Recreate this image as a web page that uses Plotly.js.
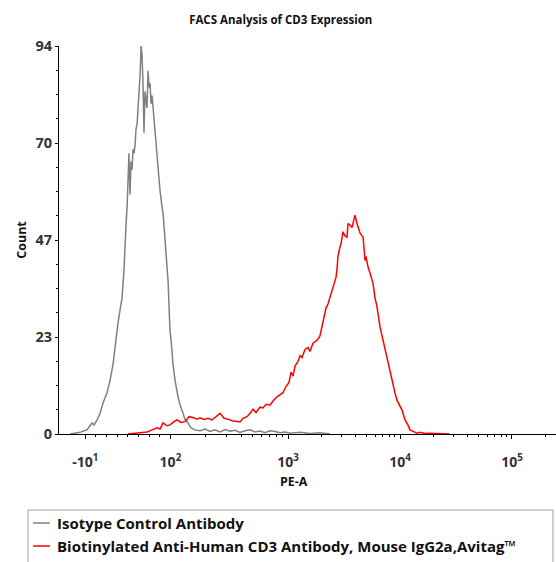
<!DOCTYPE html>
<html>
<head>
<meta charset="utf-8">
<script src="https://cdn.plot.ly/plotly-3.0.1.min.js"></script>
<style>html,body{margin:0;padding:0;background:#fff;}#chart{width:556px;height:562px;}</style>
</head>
<body>
<div id="chart"></div>
<script>
// Display positions on the PE-A axis (logicle-like decade units)
const xTickPos = [1.19, 1.95, 3, 4, 5];
const xTickText = ["-10<sup>1</sup>", "10<sup>2</sup>", "10<sup>3</sup>", "10<sup>4</sup>", "10<sup>5</sup>"];
const yMax = 94;
const yTickText = ["0", "23", "47", "70", "94"];

const isotypeX = [1.054,1.098,1.143,1.179,1.205,1.232,1.250,1.268,1.295,1.321,1.348,1.384,1.411,1.438,1.455,1.482,1.500,1.518,1.536,1.545,1.554,1.563,1.571,1.580,1.589,1.598,1.607,1.616,1.625,1.634,1.643,1.652,1.661,1.670,1.679,1.688,1.696,1.705,1.714,1.723,1.732,1.741,1.750,1.759,1.768,1.777,1.786,1.795,1.804,1.813,1.830,1.839,1.857,1.875,1.884,1.902,1.920,1.929,1.946,1.955,1.973,1.991,2.018,2.036,2.063,2.080,2.107,2.134,2.170,2.214,2.259,2.304,2.348,2.393,2.438,2.482,2.527,2.571,2.616,2.661,2.705,2.750,2.795,2.839,2.884,2.929,2.973,3.018,3.107,3.196,3.286,3.375];
const isotypeY = [0,0.2,0.4,0.8,1.0,2.0,2.7,2.2,3.4,5.0,7.5,10,13,17,21,27,30,33,40,47,51,55,62,68,58,66,64,69,68,70,74,75,79,83,87,94,92,85,73,83,80,79,88,84,85,80,82,79,76,73.6,67,64,59,55,53.5,47,39,37,25,23,17,13,9,7,5,3.5,2.7,1.5,1.0,0.8,1.2,0.6,1.0,0.5,1.1,0.7,0.9,0.4,0.8,1.0,0.5,0.7,0.3,0.8,0.6,0.3,0.5,0.2,0.4,0.1,0.3,0];

const cd3X = [1.571,1.634,1.696,1.741,1.786,1.830,1.857,1.884,1.920,1.946,1.982,2.009,2.045,2.080,2.116,2.152,2.188,2.214,2.250,2.286,2.321,2.357,2.393,2.429,2.464,2.500,2.536,2.571,2.598,2.634,2.661,2.688,2.714,2.750,2.777,2.804,2.839,2.866,2.902,2.929,2.955,2.982,3.009,3.027,3.045,3.063,3.089,3.107,3.125,3.152,3.179,3.196,3.223,3.250,3.268,3.286,3.304,3.321,3.339,3.357,3.375,3.393,3.411,3.429,3.438,3.446,3.464,3.473,3.491,3.509,3.527,3.536,3.554,3.571,3.589,3.598,3.616,3.634,3.643,3.661,3.670,3.679,3.688,3.696,3.714,3.732,3.759,3.777,3.795,3.821,3.848,3.866,3.884,3.911,3.938,3.955,3.973,4.000,4.018,4.045,4.071,4.089,4.116,4.152,4.179,4.223,4.268,4.357,4.446];
const cd3Y = [0,0.2,0.4,0.5,1.0,1.5,1.2,2.7,2.0,2.2,3.0,3.4,2.8,3.0,4.2,4.0,3.6,3.9,3.5,3.8,3.4,4.2,5.0,3.8,3.6,3.2,3.0,2.9,3.8,4.2,5.0,6.0,5.2,6.5,6.3,7.2,7.0,8.0,9.0,9.5,10.0,11.5,12.5,15.0,14.0,16.5,17.5,19,18.5,20.5,21,20,22,22.5,23,23.8,26,28,30.5,31.5,33,34.5,36,38,40,43,45.3,46,49,48,47.7,51,50.6,50,52,53,51,49,48.7,48,47.7,45,42,43,40.5,39,36.5,33,30.8,26,22.8,20.5,18,14.8,11.4,10,8.2,6.8,5.8,3.4,2.2,1.0,0.6,0.2,0.4,0.1,0.2,0.1,0];

const seriesNames = ["Isotype Control Antibody", "Biotinylated Anti-Human CD3 Antibody, Mouse IgG2a,Avitag\u2122"];
const seriesColors = ["#808080", "#ff0000"];

// derived tick arrays
const yTickVals = yTickText.map((t, i) => yMax * i / (yTickText.length - 1));
const yMinor = [];
for (let i = 0; i <= 16; i++) yMinor.push(yMax * i / 16);
const xMinor = [];
for (let v = xTickPos[0]; v < xTickPos[1]; v += (xTickPos[1] - xTickPos[0]) / 8) xMinor.push(v);
for (let i = 1; i < xTickPos.length; i++) {
  const span = (i + 1 < xTickPos.length) ? xTickPos[i + 1] - xTickPos[i] : 1;
  for (let m = 2; m <= 9; m++) xMinor.push(xTickPos[i] + Math.log10(m) * span);
}

const FONT = "'Open Sans', Lato, sans-serif";
const bold = s => "<b>" + s + "</b>";

const traces = [
  {x: isotypeX, y: isotypeY, name: seriesNames[0], type: "scatter", mode: "lines",
   line: {color: seriesColors[0], width: 1.5}, showlegend: false},
  {x: cd3X, y: cd3Y, name: seriesNames[1], type: "scatter", mode: "lines",
   line: {color: seriesColors[1], width: 1.5}, showlegend: false}
];

// legend drawn in paper coordinates (plot area: 497 x 388 px)
const px2x = p => (p - 59) / 497;
const py2y = p => (434 - p) / 388;
const legendRowsY = [523, 546];
const shapes = [
  {type: "rect", xref: "paper", yref: "paper", x0: px2x(28), x1: px2x(553), y0: py2y(510), y1: py2y(566),
   line: {color: "#a0a0a0", width: 1}, fillcolor: "rgba(0,0,0,0)"}
];
const annotations = [
  {text: bold("PE-A"), xref: "paper", yref: "paper", x: px2x(294), y: py2y(481), xanchor: "center", yanchor: "middle",
   showarrow: false, font: {family: FONT, size: 12.5, color: "#111"}}
];
seriesNames.forEach((n, i) => {
  shapes.push({type: "line", xref: "paper", yref: "paper", x0: px2x(33), x1: px2x(50),
               y0: py2y(legendRowsY[i]), y1: py2y(legendRowsY[i]), line: {color: seriesColors[i], width: 1.5}});
  annotations.push({text: bold(n), xref: "paper", yref: "paper", x: px2x(55), y: py2y(legendRowsY[i]),
                    xanchor: "left", yanchor: "middle", showarrow: false,
                    font: {family: FONT, size: 15, color: "#111"}});
});

const layout = {
  width: 556, height: 562,
  margin: {l: 59, r: 0, t: 46, b: 128},
  paper_bgcolor: "#fff", plot_bgcolor: "#fff",
  font: {family: FONT, color: "#222"},
  title: {text: bold("FACS Analysis of CD3 Expression"), x: 0.505, xanchor: "center", y: 0.965, yanchor: "middle",
          font: {family: FONT, size: 11.5, color: "#111"}},
  xaxis: {
    range: [0.955, 5.393], showgrid: false, zeroline: false,
    showline: true, linecolor: "#000", linewidth: 1,
    tickmode: "array", tickvals: xTickPos, ticktext: xTickText.map(bold),
    ticks: "outside", ticklen: 4, tickcolor: "#000", ticklabelstandoff: 11,
    tickfont: {family: FONT, size: 14, color: "#333"},
    minor: {tickmode: "array", tickvals: xMinor, ticks: "outside", ticklen: 2, tickcolor: "#000"},
    fixedrange: true
  },
  yaxis: {
    range: [0, yMax], showgrid: false, zeroline: false,
    showline: true, linecolor: "#000", linewidth: 1,
    tickmode: "array", tickvals: yTickVals, ticktext: yTickText.map(bold),
    ticks: "outside", ticklen: 3, tickcolor: "#000",
    tickfont: {family: FONT, size: 14.5, color: "#333"},
    minor: {tickmode: "array", tickvals: yMinor, ticks: "outside", ticklen: 2, tickcolor: "#000"},
    title: {text: bold("Count"), font: {family: FONT, size: 12.5, color: "#111"}, standoff: 6},
    fixedrange: true
  },
  shapes: shapes,
  annotations: annotations,
  showlegend: false
};

Plotly.newPlot("chart", traces, layout, {displayModeBar: false, staticPlot: true});
</script>
</body>
</html>
